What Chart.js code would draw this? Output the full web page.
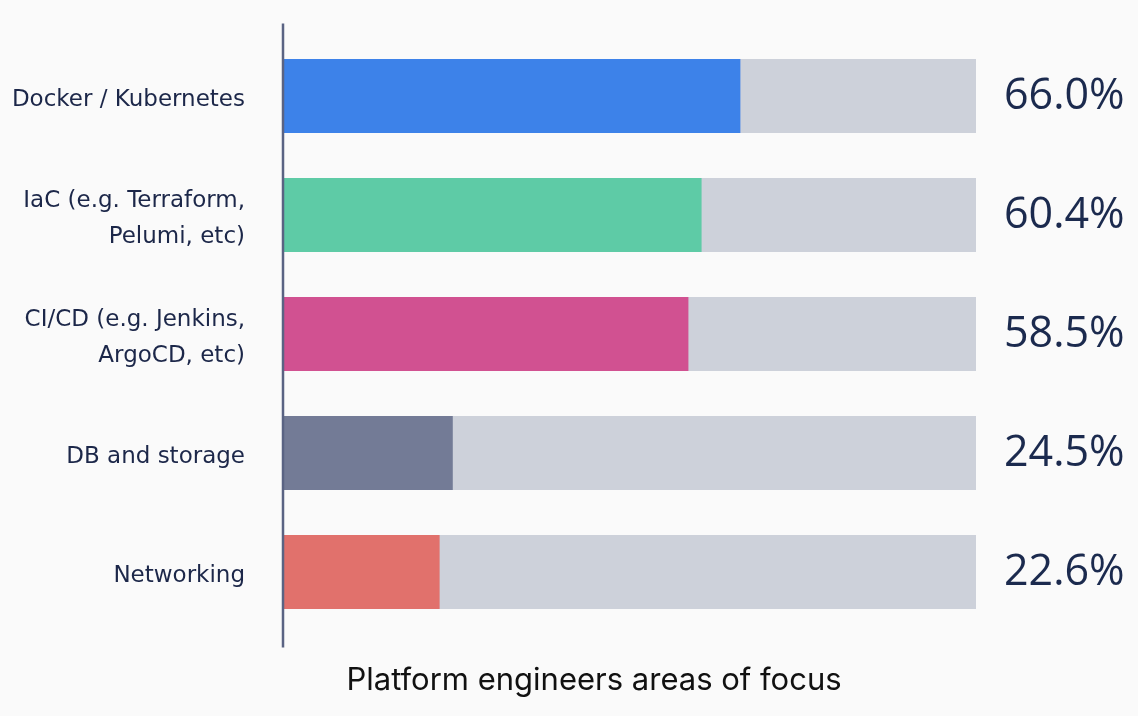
<!DOCTYPE html>
<html><head><meta charset="utf-8">
<script src="https://cdn.jsdelivr.net/npm/chart.js@4.4.0/dist/chart.umd.min.js"></script>
<style>html,body{margin:0;padding:0;background:#fafafa}#wrap{width:1138px;height:716px}</style>
</head><body><div id="wrap"><canvas id="c" width="1138" height="716"></canvas></div>
<script>
const categories = [["Docker / Kubernetes"], ["IaC (e.g. Terraform,", "Pelumi, etc)"], ["CI/CD (e.g. Jenkins,", "ArgoCD, etc)"], ["DB and storage"], ["Networking"]];
const values = [66.0, 60.4, 58.5, 24.5, 22.6];
const trackValues = [100, 100, 100, 100, 100];
const barColors = ["#3d82e9", "#5ecba6", "#d15191", "#737b96", "#e1716c"];
const trackColor = "#cdd1da";
const chartTitle = "Platform engineers areas of focus";

const axisLine = {
  id: 'axisLine',
  afterDatasetsDraw(chart) {
    const {ctx, chartArea} = chart;
    ctx.save();
    ctx.strokeStyle = '#5a6383';
    ctx.lineWidth = 2.5;
    ctx.beginPath();
    ctx.moveTo(chartArea.left, chartArea.top - 13);
    ctx.lineTo(chartArea.left, chartArea.bottom + 16);
    ctx.stroke();
    ctx.restore();
  }
};
const bottomTitle = {
  id: 'bottomTitle',
  afterDraw(chart) {
    const {ctx} = chart;
    ctx.save();
    ctx.fillStyle = '#111111';
    ctx.font = '31px "Inter", sans-serif';
    ctx.textAlign = 'center';
    ctx.textBaseline = 'middle';
    ctx.fillText(chartTitle, 594, 681);
    ctx.restore();
  }
};
function fixPad(s, w) { s.width = w; s.paddingTop = 0; s.paddingBottom = 0; }

new Chart(document.getElementById('c'), {
  type: 'bar',
  data: {
    labels: categories,
    datasets: [
      { data: values, backgroundColor: barColors, order: 1, grouped: false, barPercentage: 0.622, categoryPercentage: 1 },
      { data: trackValues, backgroundColor: trackColor, order: 2, grouped: false, barPercentage: 0.622, categoryPercentage: 1 }
    ]
  },
  options: {
    indexAxis: 'y',
    responsive: false,
    animation: false,
    layout: { padding: { top: 36.5, bottom: 84.5, left: 0, right: 0 } },
    plugins: { legend: { display: false }, tooltip: { enabled: false }, title: { display: false } },
    scales: {
      x: { display: false, min: 0, max: 100 },
      y: {
        position: 'left',
        grid: { display: false, drawTicks: false },
        border: { display: false },
        ticks: { padding: 38, labelOffset: 4, color: '#1c2749', font: { family: 'DejaVu Sans', size: 23, lineHeight: 1.55 } },
        afterFit(s) { fixPad(s, 283); }
      },
      y2: {
        type: 'category',
        position: 'right',
        labels: categories.map((c, i) => String(i)),
        display: true,
        offset: true,
        grid: { display: false, drawTicks: false },
        border: { display: false },
        ticks: { padding: 28, labelOffset: 1, color: '#1b2a4e', font: { family: 'Open Sans', size: 43 },
          callback: (v, i) => values[i].toFixed(1) + '%' },
        afterFit(s) { fixPad(s, 162); }
      }
    }
  },
  plugins: [axisLine, bottomTitle]
});
</script></body></html>
